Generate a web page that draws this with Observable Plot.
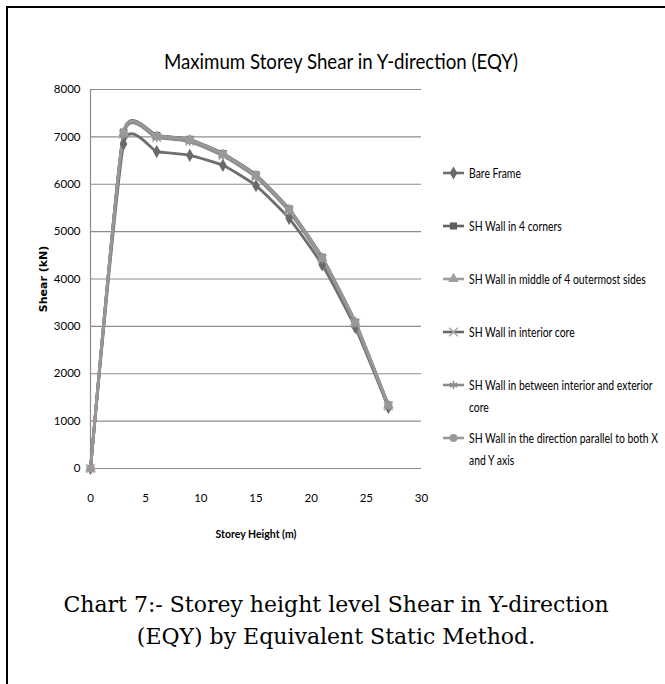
<!DOCTYPE html>
<html><head><meta charset="utf-8">
<script src="https://cdn.jsdelivr.net/npm/d3@7"></script>
<script src="https://cdn.jsdelivr.net/npm/@observablehq/plot@0.6"></script>
<style>
body{margin:0;background:#fff;}
#page{position:relative;width:665px;height:684px;overflow:hidden;background:#fff;}
#frame{position:absolute;left:6px;top:6px;right:-10px;bottom:-10px;border-top:2px solid #000;border-left:2px solid #000;}
#title{position:absolute;left:141px;width:400px;top:47px;text-align:center;font-family:Lato,sans-serif;font-size:21px;line-height:28px;color:#000;white-space:nowrap;transform:scaleX(0.89);transform-origin:200px 0;}
#chart{position:absolute;left:0;top:0;}
#legend{position:absolute;left:0;top:0;width:665px;height:684px;pointer-events:none;}
.item{position:absolute;left:443px;width:280px;display:flex;align-items:flex-start;font-family:Lato,sans-serif;font-size:13px;line-height:22px;color:#000;}
.item svg{flex:none;margin-top:4px;margin-right:2px;}
.item .lab{width:240px;flex:none;transform:scaleX(0.8);transform-origin:0 0;}
#caption{position:absolute;left:36px;width:600px;top:589px;text-align:center;font-family:"DejaVu Serif","Liberation Serif",serif;font-size:22px;line-height:32px;color:#000;}
#chart g[aria-label="y-axis label"] text{font-family:"DejaVu Sans",sans-serif;font-weight:bold;font-size:11px;}
#chart g[aria-label="x-axis label"] text{font-weight:bold;font-size:10.5px;}
</style>
</head><body>
<div id="page">
  <div id="frame"></div>
  <div id="title">Maximum Storey Shear in Y-direction (EQY)</div>
  <div id="chart"></div>
  <div id="legend"></div>
  <div id="caption">Chart 7:- Storey height level Shear in Y-direction<br>(EQY) by Equivalent Static Method.</div>
</div>
<script>
// ---- data ----
const storeyHeights = [0, 3, 6, 9, 12, 15, 18, 21, 24, 27];
const seriesNames = [
  "Bare Frame",
  "SH Wall in 4 corners",
  "SH Wall in middle of 4 outermost sides",
  "SH Wall in interior core",
  "SH Wall in between interior and exterior core",
  "SH Wall in the direction parallel to both X and Y axis"
];
const bareFrame      = [0, 6850, 6690, 6610, 6400, 5970, 5280, 4300, 2980, 1290];
const wall4Corners   = [0, 7100, 7030, 6950, 6650, 6200, 5480, 4460, 3090, 1340];
const wallMiddle     = [0, 7080, 7010, 6930, 6630, 6180, 5460, 4440, 3080, 1330];
const wallInterior   = [0, 7060, 6990, 6910, 6610, 6160, 5440, 4420, 3060, 1320];
const wallBetween    = [0, 7050, 6980, 6900, 6600, 6150, 5430, 4410, 3050, 1320];
const wallDirection  = [0, 7090, 7020, 6940, 6640, 6190, 5470, 4450, 3085, 1335];
const seriesValues = [bareFrame, wall4Corners, wallMiddle, wallInterior, wallBetween, wallDirection];
const xTicks = [0, 5, 10, 15, 20, 25, 30];
const yTicks = [0, 1000, 2000, 3000, 4000, 5000, 6000, 7000, 8000];

// ---- styles ----
const lineColors = ["#6e6e6e", "#626262", "#9c9c9c", "#686868", "#8c8c8c", "#989898"];
const markerColors = ["#6a6a6a", "#5c5c5c", "#a0a0a0", "#a8a8a8", "#8c8c8c", "#999999"];
const symbols = ["diamond", "square", "triangle", "times", "asterisk", "circle"];
const filled = [true, true, true, false, false, true];

const rows = [];
seriesNames.forEach((s, i) => storeyHeights.forEach((h, j) => rows.push({series: s, idx: i, h, v: seriesValues[i][j]})));

const marks = [
  Plot.gridY(yTicks, {stroke: "#8c8c8c", strokeOpacity: 1, strokeWidth: 1.2}),
  Plot.ruleX([0], {stroke: "#8c8c8c", strokeWidth: 1.2}),
  Plot.axisY(yTicks, {tickSize: 0, tickPadding: 10, tickFormat: d => String(d), label: "Shear (kN)", labelAnchor: "center", labelOffset: 51, labelArrow: "none"}),
  Plot.axisX(xTicks, {tickSize: 0, tickPadding: 25, tickFormat: d => String(d), label: "Storey Height (m)", labelAnchor: "center", labelOffset: 69, labelArrow: "none"})
];
seriesNames.forEach((s, i) => {
  const d = rows.filter(r => r.idx === i);
  marks.push(Plot.line(d, {x: "h", y: "v", stroke: lineColors[i], strokeWidth: 2.8, curve: "cardinal", tension: 0.5}));
});
seriesNames.forEach((s, i) => {
  const d = rows.filter(r => r.idx === i);
  marks.push(Plot.dot(d, filled[i]
    ? {x: "h", y: "v", symbol: symbols[i], r: 4, fill: markerColors[i], stroke: "none"}
    : {x: "h", y: "v", symbol: symbols[i], r: 4, fill: "none", stroke: markerColors[i], strokeWidth: 1.5}));
});

const chart = Plot.plot({
  width: 440, height: 560,
  marginLeft: 90, marginRight: 19, marginTop: 89, marginBottom: 92,
  x: {domain: [0, 30]},
  y: {domain: [0, 8000]},
  style: {fontFamily: "Lato, sans-serif", fontSize: "11.5px", color: "#000", background: "transparent", overflow: "visible"},
  marks
});
document.getElementById("chart").appendChild(chart);

// ---- legend ----
const legend = d3.select("#legend");
const symMap = {diamond: d3.symbolDiamond, square: d3.symbolSquare, triangle: d3.symbolTriangle, times: d3.symbolTimes, asterisk: d3.symbolAsterisk, circle: d3.symbolCircle};
seriesNames.forEach((s, i) => {
  const item = legend.append("div").attr("class", "item").style("top", (173 + i * 53 - 11) + "px");
  const sv = item.append("svg").attr("width", 24).attr("height", 14);
  sv.append("line").attr("x1", 0).attr("x2", 21).attr("y1", 7).attr("y2", 7).attr("stroke", lineColors[i]).attr("stroke-width", 2.6);
  const p = sv.append("path").attr("transform", "translate(10.5,7)").attr("d", d3.symbol(symMap[symbols[i]], 50)());
  if (filled[i]) p.attr("fill", markerColors[i]);
  else p.attr("fill", "none").attr("stroke", markerColors[i]).attr("stroke-width", 1.5);
  item.append("div").attr("class", "lab").text(s);
});
</script>
</body></html>
